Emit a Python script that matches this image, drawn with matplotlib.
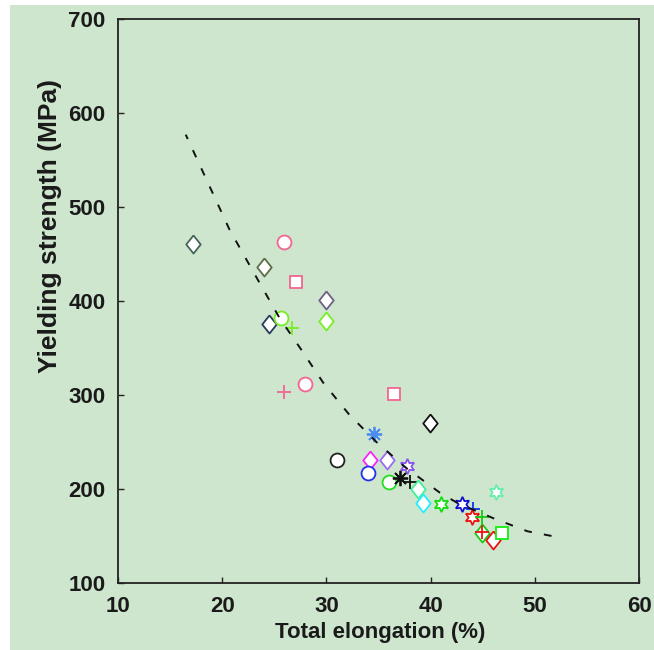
import matplotlib
matplotlib.use("Agg")
import matplotlib.pyplot as plt
from matplotlib.patches import Rectangle

# measured points: total elongation (%) and yielding strength (MPa)
elongation = [17.2, 24.0, 25.9, 27.1, 30.0, 30.0, 24.5, 25.6, 26.7, 27.9, 25.9,
              36.5, 39.9, 34.6, 31.0, 34.2, 35.8, 34.0, 37.7, 36.0, 37.1, 38.0,
              38.8, 39.3, 41.0, 46.3, 43.0, 44.1, 44.0, 44.9, 44.9, 44.9, 46.0, 46.9]
strength = [461, 436, 463, 420, 401, 379, 376, 382, 371, 312, 303,
            301, 270, 258, 231, 231, 231, 217, 225, 207, 212, 207,
            200, 185, 184, 197, 184, 179, 170, 170, 153, 154, 146, 153]

# fitted trend
fit_x = [16.5, 20.7, 23.6, 25.5, 27.6, 29.7, 32.2, 34.8, 37.7, 40.9, 42.6, 46.0, 49.3, 52.1]
fit_y = [577, 476, 419, 382, 348, 313, 279, 250, 222, 196, 185, 169, 155, 149]

x_ticks = [10, 20, 30, 40, 50, 60]
y_ticks = [100, 200, 300, 400, 500, 600, 700]

# marker style per point (same order as the data)
DIAMOND = [(0, 1), (0.8, 0), (0, -1), (-0.8, 0), (0, 1)]
HEXAGRAM = (6, 1, 0)
ASTER = (8, 2, 0)
styles = [
    (DIAMOND, "#46645a"), (DIAMOND, "#5c6e48"), ("o", "#f2668f"), ("s", "#f2668f"),
    (DIAMOND, "#6e5f86"), (DIAMOND, "#77ee22"), (DIAMOND, "#263a5a"), ("o", "#77ee22"),
    ("+", "#77ee22"), ("o", "#f2668f"), ("+", "#f2668f"), ("s", "#f2668f"),
    (DIAMOND, "#111111"), (ASTER, "#4a8cf0"), ("o", "#222222"), (DIAMOND, "#ff22ff"),
    (DIAMOND, "#9a6cf0"), ("o", "#2233ee"), (HEXAGRAM, "#8a55e8"), ("o", "#22dd22"),
    (ASTER, "#111111"), ("+", "#111111"), (DIAMOND, "#44ee99"), (DIAMOND, "#22eeff"),
    (HEXAGRAM, "#11dd11"), (HEXAGRAM, "#66eeaa"), (HEXAGRAM, "#1111cc"), ("+", "#1133ee"),
    (HEXAGRAM, "#ee1111"), ("+", "#11cc11"), (DIAMOND, "#11cc11"), ("+", "#ee1111"),
    (DIAMOND, "#ee1111"), ("s", "#11ee11"),
]
sizes = {"o": 10, "s": 8.5, "+": 10}

BG = "#cde6cd"
FONT = dict(family="Liberation Sans", weight="bold")

fig = plt.figure(figsize=(6.54, 6.50), dpi=100, facecolor="white")
fig.patches.append(Rectangle((10 / 654, 0), 1, 1 - 5 / 650, transform=fig.transFigure,
                             facecolor=BG, edgecolor="none", zorder=-10))
ax = fig.add_axes([118 / 654, 1 - 583 / 650, 521 / 654, 564 / 650])
ax.set_facecolor(BG)

for x, y, (m, c) in zip(elongation, strength, styles):
    if m is DIAMOND:
        ms = 13
    elif m in (HEXAGRAM, ASTER):
        ms = 11
    else:
        ms = sizes[m]
    ax.plot(x, y, linestyle="none", marker=m, markersize=ms, markerfacecolor="white",
            markeredgecolor=c, markeredgewidth=1.3, zorder=3)

ax.plot(fit_x, fit_y, color="#111111", linewidth=1.4, linestyle=(1.5, (4, 6.3)), zorder=4)

ax.set_xlim(10, 60)
ax.set_ylim(100, 700)
ax.set_xticks(x_ticks)
ax.set_yticks(y_ticks)
ax.tick_params(direction="in", length=4, width=1, color="#222222",
               top=False, right=False, pad=9)
for lab in ax.get_xticklabels() + ax.get_yticklabels():
    lab.set_fontsize(16)
    lab.set_fontfamily(FONT["family"])
    lab.set_fontweight("bold")
    lab.set_color("#1a1a1a")
for s in ax.spines.values():
    s.set_color("#222222")
    s.set_linewidth(1.3)

ax.set_xlabel("Total elongation (%)", fontsize=16, color="#1a1a1a", va="center", **FONT)
ax.xaxis.set_label_coords(0.503, -0.087)
ax.set_ylabel("Yielding strength (MPa)", fontsize=19, color="#1a1a1a", va="center", **FONT)
ax.yaxis.set_label_coords(-0.13, 0.633)

fig.savefig("out.png", dpi=100, facecolor=fig.get_facecolor())
